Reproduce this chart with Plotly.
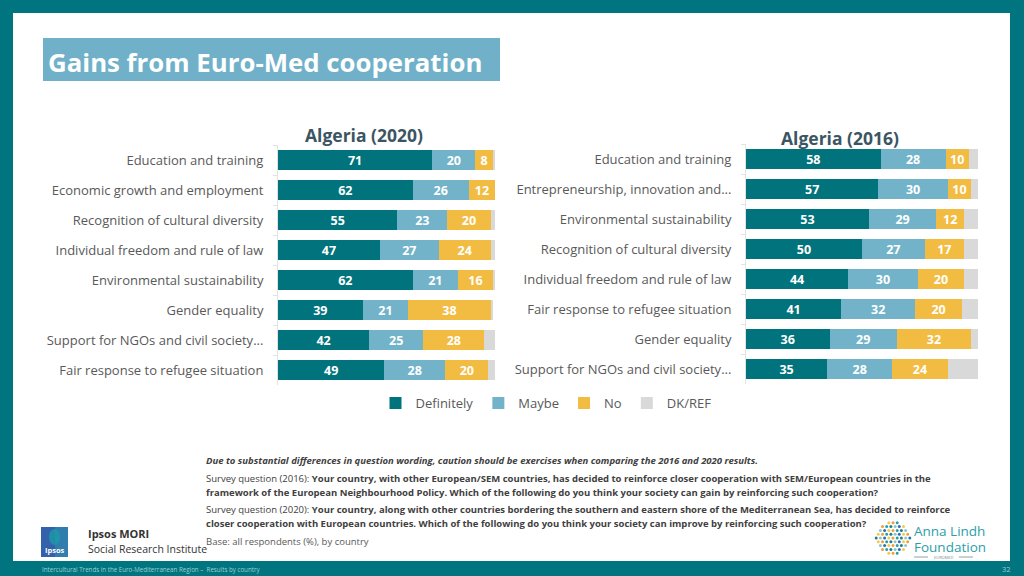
import plotly.graph_objects as go

# ---------------- data ----------------
cats_2020 = ["Education and training", "Economic growth and employment",
             "Recognition of cultural diversity", "Individual freedom and rule of law",
             "Environmental sustainability", "Gender equality",
             "Support for NGOs and civil society...", "Fair response to refugee situation"]
def_2020 = [71, 62, 55, 47, 62, 39, 42, 49]
may_2020 = [20, 26, 23, 27, 21, 21, 25, 28]
no_2020 = [8, 12, 20, 24, 16, 38, 28, 20]
dk_2020 = [1, 1, 2, 2, 1, 1, 5, 3]

cats_2016 = ["Education and training", "Entrepreneurship, innovation and...",
             "Environmental sustainability", "Recognition of cultural diversity",
             "Individual freedom and rule of law", "Fair response to refugee situation",
             "Gender equality", "Support for NGOs and civil society..."]
def_2016 = [58, 57, 53, 50, 44, 41, 36, 35]
may_2016 = [28, 30, 29, 27, 30, 32, 29, 28]
no_2016 = [10, 10, 12, 17, 20, 20, 32, 24]
dk_2016 = [4, 3, 6, 6, 6, 7, 3, 13]

series_names = ["Definitely", "Maybe", "No", "DK/REF"]
series_colors = ["#00737c", "#72b3c9", "#f2bc42", "#d9d9d9"]

W, H = 1024, 576
TEAL = "#00747f"
FONT = "Open Sans"


def px(x):
    return x / W


def py(y):
    return 1 - y / H


fig = go.Figure()

for (cats, vals, xa, ya, show) in [
    (cats_2020, [def_2020, may_2020, no_2020, dk_2020], "x", "y", True),
    (cats_2016, [def_2016, may_2016, no_2016, dk_2016], "x2", "y2", False),
]:
    for i, (name, col, v) in enumerate(zip(series_names, series_colors, vals)):
        fig.add_trace(go.Bar(
            y=cats, x=v, orientation="h", name=name,
            marker=dict(color=col, line=dict(width=0)),
            text=v if i < 3 else None,
            texttemplate="%{x}" if i < 3 else None,
            textposition="inside" if i < 3 else "none",
            insidetextanchor="middle",
            textangle=0,
            constraintext="none",
            textfont=dict(color="white", size=12.5, family=FONT, weight=700),
            xaxis=xa, yaxis=ya, legendgroup=name, showlegend=show,
            hoverinfo="skip",
        ))

yaxis_common = dict(
    type="category", autorange="reversed",
    tickfont=dict(size=13, color="#595959", family=FONT),
    showline=True, linecolor="#e3e3e3", linewidth=1,
    ticks="outside", tickson="boundaries", ticklen=4, tickcolor="#e3e3e3",
    ticklabelstandoff=11, showgrid=False, zeroline=False,
)
xaxis_common = dict(range=[0, 100], visible=False, showgrid=False, zeroline=False, fixedrange=True)

fig.update_layout(
    width=W, height=H,
    margin=dict(l=0, r=0, t=0, b=0),
    paper_bgcolor=TEAL, plot_bgcolor="rgba(0,0,0,0)",
    barmode="stack", bargap=0.33,
    showlegend=True,
    xaxis=dict(domain=[px(278), px(495)], anchor="y", **xaxis_common),
    yaxis=dict(domain=[py(385), py(145)], anchor="x", **yaxis_common),
    xaxis2=dict(domain=[px(746), px(978)], anchor="y2", **xaxis_common),
    yaxis2=dict(domain=[py(384), py(144)], anchor="x2", **yaxis_common),
    legend=dict(orientation="h", x=px(546), xanchor="center", y=py(403), yanchor="middle",
                font=dict(size=13, color="#595959", family=FONT),
                bgcolor="rgba(0,0,0,0)", traceorder="normal", itemclick=False,
                entrywidthmode="pixels"),
    font=dict(family=FONT),
)

shapes = []
# white page area
shapes.append(dict(type="rect", xref="paper", yref="paper", x0=px(13), x1=px(1010), y0=py(561), y1=py(13),
                   fillcolor="white", line=dict(width=0), layer="below"))
# title box
shapes.append(dict(type="rect", xref="paper", yref="paper", x0=px(43), x1=px(500), y0=py(81), y1=py(38),
                   fillcolor="#70b1c9", line=dict(width=0), layer="below"))
# Ipsos logo
shapes.append(dict(type="rect", xref="paper", yref="paper", x0=px(41), x1=px(68), y0=py(557), y1=py(527),
                   fillcolor="#3461ab", line=dict(width=0), layer="above"))
shapes.append(dict(type="rect", xref="paper", yref="paper", x0=px(55), x1=px(68), y0=py(557), y1=py(527),
                   fillcolor="#2f8fb0", line=dict(width=0), opacity=0.6, layer="above"))
shapes.append(dict(type="circle", xref="paper", yref="paper", x0=px(49), x1=px(60), y0=py(545), y1=py(529),
                   fillcolor="#1d9aa6", line=dict(width=0), opacity=0.8, layer="above"))
# Anna Lindh dotted circle logo
dot_cols = ["#2a9fa8", "#e9a23b", "#f3c94f", "#2e6fb0", "#8cc6cf", "#1f7f89"]
cx, cy, R = 893, 538, 17
for j in range(-4, 5):
    for i in range(-4, 5):
        x = cx + i * 4.2 + (2.1 if j % 2 else 0)
        y = cy + j * 3.8
        if (x - cx) ** 2 + (y - cy) ** 2 <= R * R:
            col = dot_cols[(i * 5 + j * 3 + 7) % len(dot_cols)]
            shapes.append(dict(type="circle", xref="paper", yref="paper",
                               x0=px(x - 1.5), x1=px(x + 1.5), y0=py(y + 1.5), y1=py(y - 1.5),
                               fillcolor=col, line=dict(width=0), layer="above"))
# EUROMED rules
shapes.append(dict(type="line", xref="paper", yref="paper", x0=px(914), x1=px(928), y0=py(557), y1=py(557),
                   line=dict(color="#7a8a90", width=0.8)))
shapes.append(dict(type="line", xref="paper", yref="paper", x0=px(959), x1=px(973), y0=py(557), y1=py(557),
                   line=dict(color="#7a8a90", width=0.8)))
fig.update_layout(shapes=shapes)

ann = []


def add_text(x, y, text, size, color, family=FONT, xanchor="left", yanchor="middle"):
    ann.append(dict(x=px(x), y=py(y), xref="paper", yref="paper", text=text, showarrow=False,
                    xanchor=xanchor, yanchor=yanchor, align="left",
                    font=dict(size=size, color=color, family=family)))


add_text(46, 62, "<b>Gains from Euro-Med cooperation</b>", 25.8, "white")
add_text(364, 135, "<b>Algeria (2020)</b>", 17.5, "#3b5563", xanchor="center")
add_text(840, 138, "<b>Algeria (2016)</b>", 17.5, "#3b5563", xanchor="center")

dark = "#404040"
grey = "#595959"
fs = 9.5
add_text(204, 460, "<b><i>Due to substantial differences in question wording, caution should be exercises when comparing the 2016 and 2020 results.</i></b>", fs, dark)
add_text(204, 478, "Survey question (2016): <b>Your country, with other European/SEM countries, has decided to reinforce closer cooperation with SEM/European countries in the</b>", fs, dark)
add_text(204, 492, "<b>framework of the European Neighbourhood Policy. Which of the following do you think your society can gain by reinforcing such cooperation?</b>", fs, dark)
add_text(204, 509, "Survey question (2020): <b>Your country, along with other countries bordering the southern and eastern shore of the Mediterranean Sea, has decided to reinforce</b>", fs, dark)
add_text(204, 523, "<b>closer cooperation with European countries. Which of the following do you think your society can improve by reinforcing such cooperation?</b>", fs, dark)
add_text(204, 541, "Base: all respondents (%), by country", fs, grey)

add_text(86, 533, "<b>Ipsos MORI</b>", 11, "#333333")
add_text(86, 549, "Social Research Institute", 10.5, "#333333")
add_text(54.5, 550, "<b>Ipsos</b>", 7.5, "white", xanchor="center")

add_text(912, 531, "Anna Lindh", 13.5, "#2c9ea8")
add_text(912, 547, "Foundation", 13.5, "#2c9ea8")
add_text(943.5, 557, "EUROMED", 4, "#7a8a90", xanchor="center")

add_text(40, 569, "Intercultural Trends in the Euro-Mediterranean Region \u2013  Results by country", 6.2, "#9fd0d4")
add_text(1013, 569, "32", 7.5, "#9fd0d4", xanchor="right")

fig.update_layout(annotations=ann)
fig.write_html("out.html", config={"displayModeBar": False},
               post_script="document.body.style.margin='0';document.body.style.overflow='hidden';")
